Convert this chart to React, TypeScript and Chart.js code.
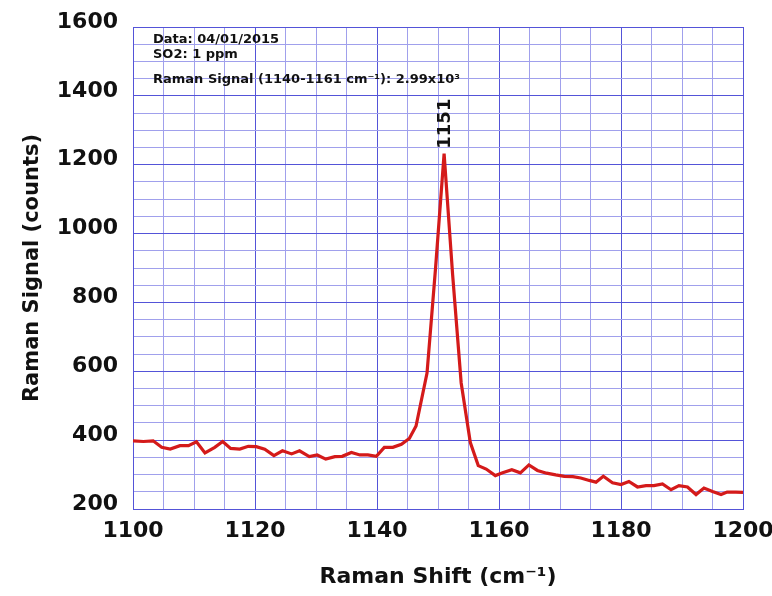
import React, { useEffect, useRef } from 'react';
import { Chart, registerables } from 'chart.js';

Chart.register(...registerables);

// Raman shift (cm^-1) of each sample
const ramanShift = [
  1100.0, 1101.7, 1103.3, 1104.7, 1106.1, 1107.7, 1109.1, 1110.4, 1111.8, 1113.4,
  1114.7, 1116.0, 1117.5, 1118.9, 1120.2, 1121.6, 1123.1, 1124.5, 1126.0, 1127.3,
  1128.9, 1130.2, 1131.6, 1133.1, 1134.3, 1135.8, 1137.2, 1138.5, 1139.9, 1141.2,
  1142.6, 1144.0, 1145.3, 1146.4, 1148.2, 1149.6, 1151.0, 1152.4, 1153.8, 1155.3,
  1156.6, 1157.9, 1159.4, 1160.6, 1162.1, 1163.5, 1164.9, 1166.3, 1167.8, 1169.3,
  1170.7, 1172.1, 1173.4, 1174.8, 1175.9, 1177.1, 1178.6, 1180.0, 1181.3, 1182.7,
  1184.1, 1185.4, 1186.8, 1188.2, 1189.5, 1190.9, 1192.3, 1193.6, 1195.0, 1196.4,
  1197.4, 1198.8, 1200.0,
];

// Raman signal (counts)
const ramanSignal = [
  398, 396, 398, 379, 374, 384, 384, 395, 363, 379,
  396, 376, 374, 382, 381, 374, 355, 369, 360, 369,
  352, 357, 345, 352, 353, 364, 357, 357, 353, 379,
  379, 388, 405, 441, 595, 900, 1232, 880, 566, 393,
  326, 316, 297, 305, 314, 305, 328, 312, 304, 299,
  295, 294, 290, 283, 278, 295, 276, 271, 280, 264,
  268, 268, 273, 256, 268, 264, 242, 261, 251, 242,
  249, 249, 248,
];

const xTickLabels = [1100, 1120, 1140, 1160, 1180, 1200];
const yTickLabels = [200, 400, 600, 800, 1000, 1200, 1400, 1600];
const xTitle = 'Raman Shift (cm\u207B\u00B9)';
const yTitle = 'Raman Signal (counts)';
const infoLines = ['Data: 04/01/2015', 'SO2: 1 ppm', 'Raman Signal (1140-1161 cm\u207B\u00B9): 2.99x10\u00B3'];
const peakShift = 1151.0;
const peakSignal = 1232;
const peakLabel = '1151';

const FONT = '"DejaVu Sans", "Liberation Sans", Arial, sans-serif';
const MAJOR = 'rgb(84,84,216)';
const MINOR = 'rgb(160,160,236)';

const annotationPlugin = {
  id: 'ramanAnnotations',
  afterDatasetsDraw(chart: any) {
    const { ctx, chartArea, scales } = chart;
    ctx.save();
    ctx.fillStyle = '#111';
    ctx.textAlign = 'left';
    ctx.textBaseline = 'alphabetic';
    ctx.font = `bold 13px ${FONT}`;
    const offsets = [16, 31, 56];
    infoLines.forEach((t, i) => {
      ctx.fillText(t, chartArea.left + 20, chartArea.top + offsets[i]);
    });
    const px = scales.x.getPixelForValue(peakShift);
    const py = scales.y.getPixelForValue(peakSignal);
    ctx.translate(px + 1, py - 5);
    ctx.rotate(-Math.PI / 2);
    ctx.font = `bold 18px ${FONT}`;
    ctx.textBaseline = 'middle';
    ctx.fillText(peakLabel, 0, 0);
    ctx.restore();
  },
};

export default function App() {
  const ref = useRef<HTMLCanvasElement>(null);
  useEffect(() => {
    document.body.style.margin = '0';
    const points = ramanShift.map((x, i) => ({ x, y: ramanSignal[i] }));
    const chart = new Chart(ref.current as HTMLCanvasElement, {
      type: 'line',
      data: {
        datasets: [
          {
            data: points,
            borderColor: '#d41a1a',
            borderWidth: 3.2,
            pointRadius: 0,
            tension: 0,
            fill: false,
          },
        ],
      },
      options: {
        responsive: false,
        animation: false,
        devicePixelRatio: 1,
        layout: { padding: { top: 27, right: 29, left: 0, bottom: 0 } },
        plugins: { legend: { display: false }, tooltip: { enabled: false } },
        scales: {
          x: {
            type: 'linear',
            min: 1100,
            max: 1200,
            afterFit: (s: any) => {
              s.height = 87;
              s.paddingLeft = 0;
              s.paddingRight = 0;
            },
            ticks: {
              stepSize: 5,
              autoSkip: false,
              maxRotation: 0,
              padding: 9,
              color: '#111',
              font: { family: FONT, size: 22, weight: 'bold' },
              callback: (v: any) => (xTickLabels.includes(Number(v)) ? String(v) : ''),
            },
            grid: {
              drawTicks: false,
              color: (c: any) => (c.tick && xTickLabels.includes(c.tick.value) ? MAJOR : MINOR),
              lineWidth: 1,
            },
            border: { color: MAJOR, width: 1 },
            title: {
              display: true,
              text: xTitle,
              color: '#111',
              font: { family: FONT, size: 22, weight: 'bold' },
              padding: { top: 0, bottom: 6 },
            },
          },
          y: {
            type: 'linear',
            min: 200,
            max: 1600,
            afterFit: (s: any) => {
              s.width = 133;
              s.paddingTop = 0;
              s.paddingBottom = 0;
            },
            ticks: {
              stepSize: 50,
              autoSkip: false,
              padding: 15,
              labelOffset: -5,
              color: '#111',
              font: { family: FONT, size: 22, weight: 'bold' },
              callback: (v: any) => (yTickLabels.includes(Number(v)) ? String(v) : ''),
            },
            grid: {
              drawTicks: false,
              color: (c: any) => (c.tick && yTickLabels.includes(c.tick.value) ? MAJOR : MINOR),
              lineWidth: 1,
            },
            border: { color: MAJOR, width: 1 },
            title: {
              display: true,
              text: yTitle,
              color: '#111',
              font: { family: FONT, size: 21, weight: 'bold' },
              padding: { top: 20, bottom: 0 },
            },
          },
        },
      },
      plugins: [annotationPlugin],
    });
    return () => chart.destroy();
  }, []);
  return (
    <div style={{ width: 772, height: 596 }}>
      <canvas ref={ref} width={772} height={596} style={{ display: 'block' }} />
    </div>
  );
}
